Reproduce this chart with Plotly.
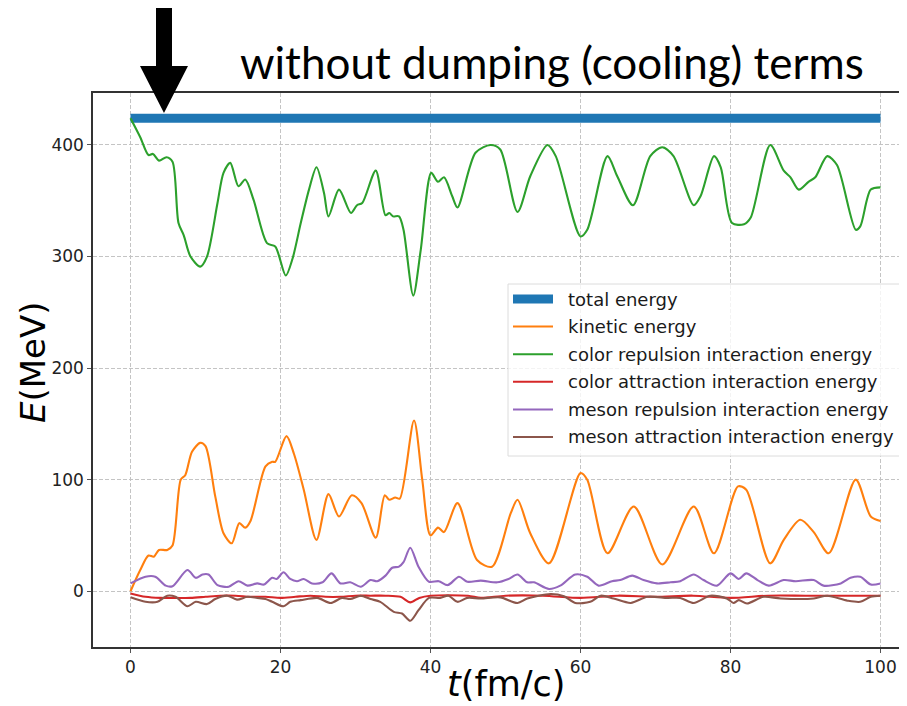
import plotly.graph_objects as go

# ---------------- data ----------------
total_t = [0, 100]
total_E = [424, 424]

kinetic_t = [0, 1.3, 2.4, 3.1, 3.8, 4.9, 5.6, 6.7, 7.3, 8.2, 9.3, 10.0, 11.3, 12.4, 13.5, 14.5, 15.3, 16.0,
             18.0, 18.9, 19.3, 20.8, 21.8, 23.1, 24.8, 26.4, 27.8, 29.5, 30.8, 32.7, 33.9, 34.5, 35.3, 35.9,
             37.8, 38.9, 40.0, 41.0, 41.8, 43.6, 46.2, 48.2, 50.7, 51.6, 53.3, 55.8, 60.0, 60.9, 63.6, 67.1,
             70.9, 75.1, 77.8, 81.0, 82.1, 85.3, 87.1, 89.3, 91.1, 93.1, 96.7, 98.7, 100]
kinetic_E = [0, 19, 32, 31, 37, 37, 41, 100, 104, 125, 133, 130, 85, 52, 43, 61, 57, 63,
             112, 116, 116, 139, 123, 91, 46, 87, 67, 86, 79, 48, 86, 82, 84, 83,
             153, 100, 50, 57, 53, 79, 28, 22, 70, 82, 52, 25, 106, 100, 34, 76,
             24, 76, 34, 94, 91, 25, 46, 64, 53, 34, 100, 67, 63]

crep_t = [0, 1.3, 2.4, 3.0, 3.8, 4.8, 5.6, 6.4, 7.1, 8.0, 9.3, 10.2, 11.6, 12.4, 13.3, 14.4, 15.3, 16.4,
          18.2, 19.3, 20.7, 21.6, 22.7, 23.8, 24.8, 25.8, 26.4, 27.8, 29.4, 30.2, 30.9, 32.7, 34.0, 34.5,
          35.0, 35.8, 36.4, 37.7, 38.7, 40.1, 41.0, 41.8, 42.9, 43.6, 46.0, 48.0, 49.3, 51.6, 53.3, 55.6,
          56.7, 60.0, 60.9, 63.6, 64.9, 67.0, 69.3, 70.9, 72.4, 75.1, 76.0, 77.8, 78.7, 80.2, 81.8, 82.7,
          85.3, 87.1, 88.0, 89.1, 90.4, 91.3, 92.9, 94.2, 96.7, 97.3, 98.7, 100]
crep_E = [424, 407, 391, 392, 386, 389, 385, 330, 319, 300, 291, 300, 348, 375, 384, 363, 369, 351,
          312, 309, 283, 298, 330, 360, 380, 357, 336, 360, 339, 346, 348, 377, 337, 339,
          336, 336, 324, 265, 306, 375, 367, 371, 354, 344, 393, 400, 396, 340, 372, 400,
          390, 318, 324, 390, 372, 346, 390, 398, 390, 346, 354, 390, 380, 330, 329, 335,
          400, 377, 371, 360, 367, 371, 390, 382, 324, 327, 360, 362]

catt_t = [0, 2, 4, 6, 8, 10, 12, 14, 16, 18, 20, 22, 24, 26, 28, 30, 32, 34, 36, 37.3, 38.5, 40,
          45, 46.7, 50, 55, 60, 65, 70, 75, 80, 85, 90, 95, 100]
catt_E = [-2, -5, -6, -6, -6, -5, -4, -4, -5, -5, -6, -5, -4, -5, -5, -4, -4, -4, -5, -10, -6, -4,
          -4, -6, -4, -4, -6, -4, -5, -4, -6, -4, -4, -4, -4]

mrep_t = [0, 2.0, 3.3, 4.7, 5.6, 7.6, 8.7, 9.6, 10.4, 11.6, 13.1, 14.4, 15.6, 16.9, 17.8, 18.9, 19.5,
          20.4, 21.3, 22.2, 23.1, 24.2, 25.6, 26.8, 28.0, 29.3, 30.7, 32.0, 32.9, 34.0, 34.9, 35.8, 36.4,
          37.3, 38.4, 39.8, 41.1, 42.3, 43.8, 44.9, 46.7, 48.9, 50.4, 51.6, 52.9, 53.8, 55.8, 57.3, 59.3,
          60.9, 62.4, 64.2, 65.3, 66.9, 68.4, 70.2, 72.0, 73.3, 75.1, 76.4, 78.2, 80.0, 81.1, 82.1, 83.6,
          85.1, 87.1, 88.7, 91.1, 92.4, 94.7, 96.0, 97.3, 98.7, 100]
mrep_E = [7, 13, 13, 5, 4.5, 19, 12, 15, 15, 5.5, 4, 9, 5, 7, 6, 12, 11,
          17, 11, 9, 11, 7, 8, 16, 7, 8, 4, 10, 9, 14, 21, 22, 26,
          39, 22, 8.5, 9, 5.5, 13, 8.5, 9.5, 8, 11, 15, 8, 8, 2, 5, 15,
          13, 5, 9, 10, 14, 10, 7, 8, 9, 15, 10, 5, 16, 11, 16, 10,
          5, 10, 9, 10, 5, 7, 12, 13, 6, 7]

matt_t = [0, 2.0, 3.6, 4.9, 6.0, 7.6, 8.7, 10.2, 11.3, 12.9, 14.2, 15.6, 16.9, 18.0, 18.9, 20.4, 21.3,
          22.7, 24.9, 26.7, 28.2, 29.3, 30.7, 32.0, 33.3, 35.1, 36.2, 37.3, 38.4, 39.8, 41.3, 42.4, 43.6,
          44.9, 46.7, 49.3, 51.6, 52.9, 56.0, 57.8, 59.3, 61.3, 62.7, 64.4, 66.7, 68.9, 71.6, 73.3, 75.1,
          77.3, 79.5, 80.4, 81.1, 82.2, 84.4, 86.7, 91.1, 92.9, 95.6, 97.3, 98.7, 100]
matt_E = [-5.5, -9.5, -9.5, -4, -5, -13.5, -9.5, -11.5, -7, -4, -7.5, -5, -6, -7, -9.5, -13.5, -9.5,
          -8, -6, -10.5, -6, -7, -4, -7, -9.5, -18.5, -20, -26.5, -17, -6, -6, -4, -9.5,
          -6, -6.5, -5.5, -10.5, -6.5, -2.5, -4.5, -10.5, -9.5, -4, -6.5, -10.5, -5, -6, -6, -10.5,
          -4, -6.5, -10.5, -8, -11, -5, -6.5, -6.5, -4, -8.5, -9.5, -5, -4]

series_names = ["total energy", "kinetic energy", "color repulsion interaction energy",
                "color attraction interaction energy", "meson repulsion interaction energy",
                "meson attraction interaction energy"]
series_colors = ["#1f77b4", "#ff7f0e", "#2ca02c", "#d62728", "#9467bd", "#8c564b"]

x_ticks = [0, 20, 40, 60, 80, 100]
y_ticks = [0, 100, 200, 300, 400]

title_text = "without dumping (cooling) terms"

# ---------------- layout geometry ----------------
OFF = 8                                   # page body margin of the browser
W_FIG, H_FIG = 907 - OFF, 706 - OFF
L, T, R, B = 93 - OFF, 93 - OFF, W_FIG, 647 - OFF   # plot area in figure pixels
PW, PH = R - L, B - T


def P(px, py):
    """reference-screen pixel -> paper coordinates"""
    return (px - OFF - L) / PW, (B - (py - OFF)) / PH


fig = go.Figure()

xs = [total_t, kinetic_t, crep_t, catt_t, mrep_t, matt_t]
ys = [total_E, kinetic_E, crep_E, catt_E, mrep_E, matt_E]
for i, (tx, ey) in enumerate(zip(xs, ys)):
    fig.add_trace(go.Scatter(
        x=tx, y=ey, mode="lines", name=series_names[i], showlegend=False,
        line=dict(color=series_colors[i], width=9 if i == 0 else 2.1,
                  shape="linear" if i == 0 else "spline", smoothing=0.8),
    ))

shapes = []
annotations = []

# manual legend (matplotlib-like)
bx0, by0 = P(508, 284)
bx1, by1 = P(915, 456)
shapes.append(dict(type="rect", xref="paper", yref="paper", x0=bx0, y0=by1, x1=bx1, y1=by0,
                   fillcolor="rgba(255,255,255,0.8)", line=dict(color="#dcdcdc", width=1),
                   layer="above"))
for i, name in enumerate(series_names):
    py = 299 + 27.6 * i
    sx0, sy = P(513, py)
    sx1, _ = P(553, py)
    shapes.append(dict(type="line", xref="paper", yref="paper", x0=sx0, x1=sx1, y0=sy, y1=sy,
                       line=dict(color=series_colors[i], width=9 if i == 0 else 2), layer="above"))
    tx, _ = P(566, py)
    annotations.append(dict(xref="paper", yref="paper", x=tx, y=sy, xanchor="left", yanchor="middle",
                            text=name, showarrow=False,
                            font=dict(family="DejaVu Sans", size=18, color="#1a1a1a")))

# black arrow
pts = [(156, 5), (172, 5), (172, 66), (188, 66), (164, 113), (140, 66), (156, 66)]
path = "M " + " L ".join("%.5f,%.5f" % P(a, b) for a, b in pts) + " Z"
shapes.append(dict(type="path", xref="paper", yref="paper", path=path,
                   fillcolor="black", line=dict(color="black", width=0), layer="above"))

# title (added text)
tx, ty = P(552, 62)
annotations.append(dict(xref="paper", yref="paper", x=tx, y=ty, xanchor="center", yanchor="middle",
                        text=title_text, showarrow=False,
                        font=dict(family="Lato", size=44, color="black")))

# axis titles
ax_, ay_ = P(33, 362)
annotations.append(dict(xref="paper", yref="paper", x=ax_, y=ay_, xanchor="center", yanchor="middle",
                        text="<i>E</i>(MeV)", textangle=-90, showarrow=False,
                        font=dict(family="DejaVu Sans", size=34, color="black")))
ax_, ay_ = P(506, 684)
annotations.append(dict(xref="paper", yref="paper", x=ax_, y=ay_, xanchor="center", yanchor="middle",
                        text="<i>t</i>(fm/c)", showarrow=False,
                        font=dict(family="DejaVu Sans", size=35, color="black")))

x_min = -5
x_max = x_min + PW / 7.5
fig.update_layout(
    width=W_FIG, height=H_FIG,
    margin=dict(l=L, r=W_FIG - R, t=T, b=H_FIG - B, pad=0),
    paper_bgcolor="white", plot_bgcolor="white",
    shapes=shapes, annotations=annotations, showlegend=False,
    font=dict(family="DejaVu Sans", size=17, color="#222222"),
)
fig.update_xaxes(range=[x_min, x_max], tickvals=x_ticks, ticktext=[str(v) for v in x_ticks],
                 showgrid=True, gridcolor="#c4c4c4", griddash="4px,2px", gridwidth=1,
                 showline=True, linecolor="#333333", linewidth=1.5, mirror=True,
                 ticks="outside", ticklen=4, tickcolor="#555555", zeroline=False,
                 tickfont=dict(family="DejaVu Sans", size=17, color="#222222"))
fig.update_yaxes(range=[-50, 446.6], tickvals=y_ticks, ticktext=[str(v) for v in y_ticks],
                 showgrid=True, gridcolor="#c4c4c4", griddash="4px,2px", gridwidth=1,
                 showline=True, linecolor="#333333", linewidth=1.5, mirror=False,
                 ticks="outside", ticklen=4, tickcolor="#555555", zeroline=False,
                 tickfont=dict(family="DejaVu Sans", size=17, color="#222222"))

fig.write_html("out.html")
